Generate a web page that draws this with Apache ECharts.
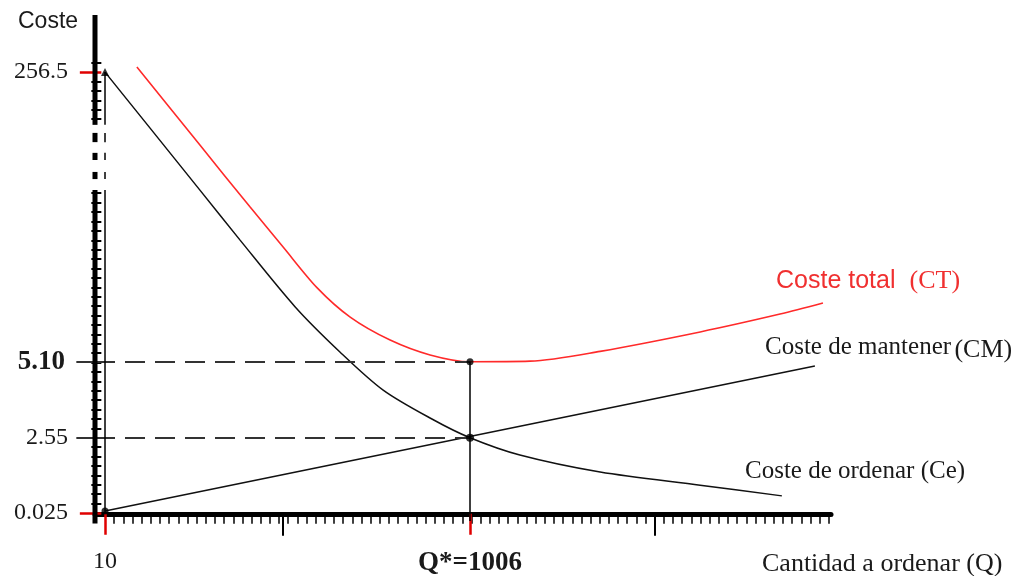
<!DOCTYPE html>
<html><head><meta charset="utf-8">
<script src="https://cdn.jsdelivr.net/npm/echarts@6/dist/echarts.min.js"></script>
<style>html,body{margin:0;padding:0;background:#fff}#c{width:1015px;height:576px}</style>
</head><body><div id="c"></div>
<script>
// ---- data (x: cantidad Q, y: coste in axis units) ----
const qInicial = 10;
const qOptimo = 1006;
const ceQ = [10, 133, 269, 378, 529, 651, 769, 902, 1006, 1142, 1361, 1634, 1857];
const ceY = [14.82, 12.94, 10.86, 9.19, 6.94, 5.43, 4.15, 3.18, 2.55, 1.97, 1.40, 0.96, 0.60];
const ctQ = [97, 269, 406, 496, 589, 679, 788, 897, 1006, 1170, 1361, 1634, 1852, 1969];
const ctY = [14.99, 12.37, 10.29, 8.95, 7.58, 6.60, 5.83, 5.33, 5.10, 5.12, 5.45, 6.10, 6.70, 7.07];
const cmQ = [10, 1947];
const cmY = [0.09, 4.96];
const yTickValues = [0.025, 2.55, 5.10, 14.82];
const yTickLabels = ['0.025', '2.55', '5.10', '256.5'];
const xTickValues = [10, 1006];
const xTickLabels = ['10', 'Q*=1006'];
const xMajorTicks = [496, 1511];

// ---- layout constants ----
const xMin = -17.3, xMax = 1991;
const yMin = -0.243, yMax = 16.736;
const yStep = 0.3156, xStep = 25;
const breakSegs = [[null, 10.86], [11.23, 11.47], [11.87, 12.11], [12.47, 12.78], [13.05, null]];

const xMinor = [];
for (let q = qInicial + xStep; q <= xMax; q += xStep) xMinor.push(q);
const yMinor = [];
for (let k = 1; k <= 34; k++) yMinor.push(yTickValues[0] + k * yStep);
for (let k = -5; k <= 1; k++) if (k !== 0) yMinor.push(yTickValues[3] + k * yStep);

const zip = (a, b) => a.map((v, i) => [v, b[i]]);
const serif = 'Liberation Serif';

function findLabel(vals, labs, v) {
  for (let i = 0; i < vals.length; i++) if (Math.abs(vals[i] - v) < 1e-6) return labs[i];
  return '';
}

const xBase = {type: 'value', min: xMin, max: xMax, position: 'bottom', splitLine: {show: false}};
const yBase = {type: 'value', min: yMin, max: yMax, position: 'left', splitLine: {show: false}, axisLine: {show: false}};

const chart = echarts.init(document.getElementById('c'), null, {renderer: 'canvas'});
const iOpt = ctQ.indexOf(qOptimo);
const iCe = ceQ.indexOf(qOptimo);

chart.setOption({
  animation: false,
  backgroundColor: '#fff',
  grid: {left: 95, right: 184, top: 15, bottom: 55, containLabel: false, outerBoundsMode: 'none'},
  xAxis: [
    Object.assign({}, xBase, {
      axisLine: {show: true, lineStyle: {color: '#000', width: 5}},
      axisTick: {show: true, customValues: xMinor, length: 10, lineStyle: {color: '#000', width: 1.5}},
      axisLabel: {show: true, customValues: xTickValues, margin: 29,
        formatter: v => { const l = findLabel(xTickValues, xTickLabels, v); return l.indexOf('Q') === 0 ? '{b|' + l + '}' : '{n|' + l + '}'; },
        rich: {n: {fontFamily: serif, fontSize: 24, color: '#1a1a1a'}, b: {fontFamily: serif, fontSize: 27, fontWeight: 'bold', color: '#1a1a1a', padding: [0, 0, 4, 0]}}}
    }),
    Object.assign({}, xBase, {
      axisLine: {show: false}, axisLabel: {show: false},
      axisTick: {show: true, customValues: xMajorTicks, length: 22, lineStyle: {color: '#000', width: 2}}
    }),
    Object.assign({}, xBase, {
      axisLine: {show: false}, axisLabel: {show: false},
      axisTick: {show: true, customValues: xTickValues, length: 21, lineStyle: {color: '#e00000', width: 2.5}}
    })
  ],
  yAxis: [
    Object.assign({}, yBase, {
      axisTick: {show: true, customValues: yMinor, length: 10, lineStyle: {color: '#000', width: 2}},
      axisLabel: {show: true, customValues: yTickValues, margin: 27,
        formatter: v => { const l = findLabel(yTickValues, yTickLabels, v); return l === '5.10' ? '{b|' + l + '}' : '{n|' + l + '}'; },
        rich: {n: {fontFamily: serif, fontSize: 24, color: '#1a1a1a'}, b: {fontFamily: serif, fontSize: 27, fontWeight: 'bold', color: '#1a1a1a', padding: [0, 3, 0, 0]}}}
    }),
    Object.assign({}, yBase, {
      axisLabel: {show: false},
      axisTick: {show: true, customValues: [yTickValues[1], yTickValues[2]], length: 25, lineStyle: {color: '#333', width: 2}}
    }),
    Object.assign({}, yBase, {
      axisLabel: {show: false},
      axisTick: {show: true, customValues: [yTickValues[0], yTickValues[3]], length: 21.5, lineStyle: {color: '#e00000', width: 2.5}}
    })
  ],
  series: [
    {
      name: 'CT', type: 'line', data: zip(ctQ, ctY), smooth: 0.3, showSymbol: false,
      lineStyle: {color: '#ff2a2a', width: 1.6}, z: 3
    },
    {
      name: 'Ce', type: 'line', data: zip(ceQ, ceY), smooth: 0.3, showSymbol: false,
      lineStyle: {color: '#111', width: 1.5}, z: 3
    },
    {
      name: 'CM', type: 'line', data: zip(cmQ, cmY), showSymbol: false,
      lineStyle: {color: '#111', width: 1.5}, z: 3,
      markLine: {
        silent: true, symbol: 'none', label: {show: false},
        data: [
          [{coord: [xMin, ctY[iOpt]], lineStyle: {type: [20, 10], color: '#333', width: 2}}, {coord: [qOptimo, ctY[iOpt]]}],
          [{coord: [xMin, ceY[iCe]], lineStyle: {type: [20, 10], color: '#333', width: 2}}, {coord: [qOptimo, ceY[iCe]]}],
          [{coord: [qOptimo, yMin], lineStyle: {type: 'solid', color: '#000', width: 1.5}}, {coord: [qOptimo, ctY[iOpt]]}]
        ]
      }
    },
    {
      name: 'puntos', type: 'scatter', z: 6,
      data: [
        {value: [ceQ[0], ceY[0]], symbol: 'triangle', symbolSize: 8},
        {value: [cmQ[0], cmY[0]], symbolSize: 7},
        {value: [qOptimo, ctY[iOpt]], symbolSize: 7},
        {value: [qOptimo, ceY[iCe]], symbolSize: 8}
      ],
      itemStyle: {color: '#000'}
    },
    {
      name: 'ejes', type: 'custom', data: [[0, 0]], clip: false, silent: true, z: 5,
      renderItem: function (params, api) {
        const children = [];
        const lines = [
          {x: xMin, y0: yMin - 0.085, y1: yMax, w: 5},
          {x: qInicial, y0: yTickValues[0], y1: yTickValues[3], w: 1.5}
        ];
        lines.forEach(L => {
          breakSegs.forEach(s => {
            const a = s[0] === null ? L.y0 : s[0];
            const b = s[1] === null ? L.y1 : s[1];
            const p0 = api.coord([L.x, a]), p1 = api.coord([L.x, b]);
            children.push({type: 'line', shape: {x1: p0[0], y1: p0[1], x2: p1[0], y2: p1[1]},
              style: {stroke: '#000', lineWidth: L.w, lineCap: 'butt'}});
          });
        });
        return {type: 'group', children: children};
      }
    }
  ],
  graphic: [
    {type: 'text', x: 18, y: 22, style: {text: 'Coste', font: '23px "Liberation Sans"', fill: '#1a1a1a', verticalAlign: 'middle'}},
    {type: 'text', x: 762, y: 564, style: {text: 'Cantidad a ordenar (Q)', font: '26px "Liberation Serif"', fill: '#1a1a1a', verticalAlign: 'middle'}},
    {type: 'text', x: 776, y: 281, style: {
      text: '{a|Coste total}{b|(CT)}', verticalAlign: 'middle',
      rich: {a: {fontFamily: 'Liberation Sans', fontSize: 25, fill: '#f03030', color: '#f03030'},
             b: {fontFamily: serif, fontSize: 26, fill: '#f03030', color: '#f03030', padding: [0, 0, 0, 14]}}}},
    {type: 'text', x: 765, y: 347, style: {
      text: '{a|Coste de mantener} {b|(CM)}', verticalAlign: 'middle',
      rich: {a: {fontFamily: serif, fontSize: 25, fill: '#1a1a1a', color: '#1a1a1a'},
             b: {fontFamily: serif, fontSize: 26, fill: '#1a1a1a', color: '#1a1a1a', padding: [6, 0, 0, 0]}}}},
    {type: 'text', x: 745, y: 471, style: {text: 'Coste de ordenar (Ce)', font: '25px "Liberation Serif"', fill: '#1a1a1a', verticalAlign: 'middle'}}
  ]
});
</script>
</body></html>
